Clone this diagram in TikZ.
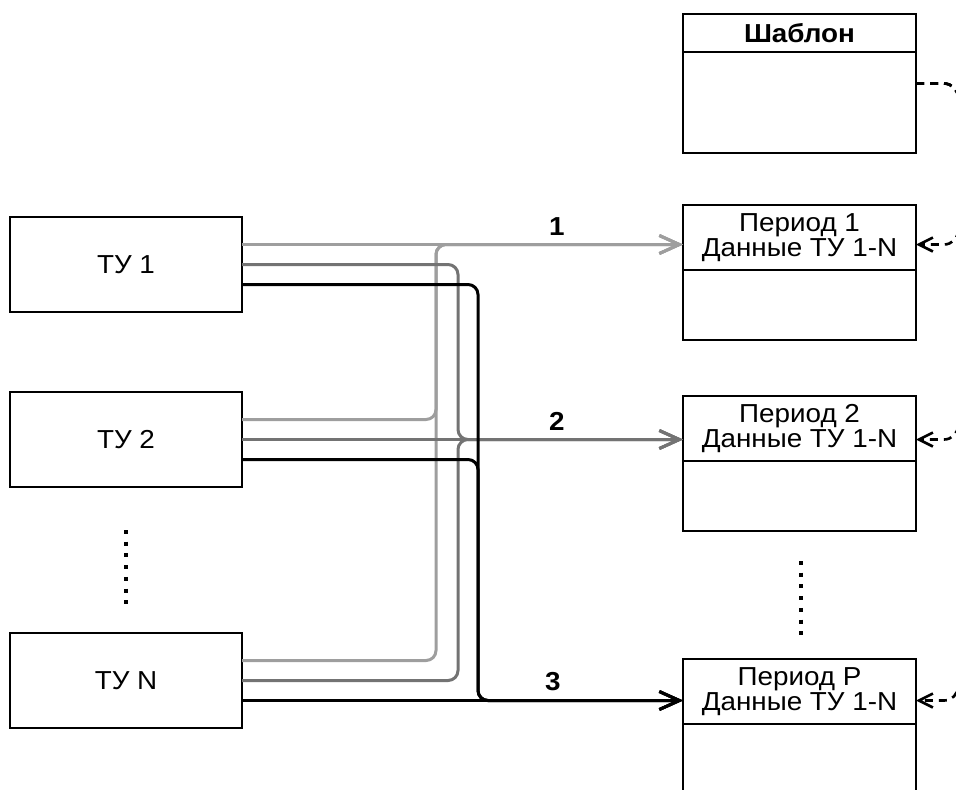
\documentclass[tikz,border=0pt]{standalone}
\usepackage{fontspec}
\setmainfont{Liberation Sans}[FakeStretch=1.07]
\usetikzlibrary{arrows.meta, positioning, calc}

\definecolor{wireA}{gray}{0.62}
\definecolor{wireB}{gray}{0.45}

\tikzset{
  basefont/.style={font=\fontsize{13}{12.5}\selectfont},
  tubox/.style={draw, line width=1pt, outer sep=0pt, inner sep=0pt, minimum width=116pt, minimum height=47.5pt, basefont},
  hdrbox/.style={draw, line width=1pt, outer sep=0pt, inner sep=0pt, minimum width=116.5pt, minimum height=32.5pt, align=center, anchor=north, basefont},
  bodybox/.style={draw, line width=1pt, outer sep=0pt, inner sep=0pt, minimum width=116.5pt, minimum height=35pt},
  wire/.style={line width=1.5pt, rounded corners=5pt, -{Straight Barb[length=10pt, width=9pt]}},
  tmpl/.style={line width=1.3pt, dash pattern=on 4pt off 3pt, rounded corners=7pt, -{Straight Barb[length=7pt, width=7pt]}},
  lbl/.style={inner sep=0pt, above=4pt, text=black, font=\fontsize{13}{13}\selectfont\bfseries},
  vdots/.style={line width=2pt, dash pattern=on 2pt off 3.85pt}
}

\begin{document}
\begin{tikzpicture}[x=0.5pt, y=-0.5pt]

    % --- 1. CANVAS ---
    \useasboundingbox (0,0) rectangle (956,789);
    \clip (0,0) rectangle (956,789);

    % --- 2. SOURCES (TU) ---
    \node[tubox] (tu1) at (126,264.5) {ТУ 1};
    \node[tubox] (tu2) at (126,439.5) {ТУ 2};
    \node[tubox] (tuN) at (126,680.5) {ТУ N};
    \draw[vdots] (126,530) -- (126,605);

    % three outputs per source
    \foreach \t in {tu1,tu2,tuN}{
        \coordinate (\t-a) at ([yshift=10pt]\t.east);
        \coordinate (\t-b) at (\t.east);
        \coordinate (\t-c) at ([yshift=-10pt]\t.east);
    }

    % --- 3. TEMPLATE AND PERIODS ---
    \node[hdrbox, minimum height=19pt, font=\fontsize{13}{12.5}\selectfont\bfseries] (sab) at (799.5,14) {Шаблон};
    \node[bodybox, minimum height=50.5pt, below=0pt of sab] (sabb) {};

    \node[hdrbox] (p1) at (799.5,205) {Период 1\\Данные ТУ 1-N};
    \node[bodybox, below=0pt of p1] (p1b) {};

    \node[hdrbox] (p2) at (799.5,396) {Период 2\\Данные ТУ 1-N};
    \node[bodybox, below=0pt of p2] (p2b) {};

    \node[hdrbox] (pP) at (799.5,659) {Период P\\Данные ТУ 1-N};
    \node[bodybox, below=0pt of pP] (pPb) {};
    \draw[vdots] (801,561) -- (801,636);

    % --- 4. WIRES TO PERIOD 1 ---
    \draw[wire, wireA] (tu2-a) -- ++(194,0) |- (tu1-a -| p1.west);
    \draw[wire, wireA] (tuN-a) -- ++(194,0) |- (tu1-a -| p1.west);
    \draw[wire, wireA] (tu1-a) -- (tu1-a -| p1.west)
        node[lbl, pos=0.714] {1};

    % --- 5. WIRES TO PERIOD 2 ---
    \draw[wire, wireB] (tu1-b) -- ++(216,0) |- (tu2-b -| p2.west);
    \draw[wire, wireB] (tuN-b) -- ++(216,0) |- (tu2-b -| p2.west);
    \draw[wire, wireB] (tu2-b) -- (tu2-b -| p2.west)
        node[lbl, pos=0.714] {2};

    % --- 6. WIRES TO PERIOD P ---
    \draw[wire, black] (tu1-c) -- ++(236,0) |- (tuN-c -| pP.west);
    \draw[wire, black] (tu2-c) -- ++(236,0) |- (tuN-c -| pP.west);
    \draw[wire, black] (tuN-c) -- (tuN-c -| pP.west)
        node[lbl, pos=0.705] {3};

    % --- 7. TEMPLATE LINKS (leave the frame on the right) ---
    \coordinate (sabR) at ($(sab.north east)!0.5!(sabb.south east)$);
    \draw[tmpl] (sabR) -- ++(42,0) |- (tu1-a -| p1.east);
    \draw[tmpl] (sabR) -- ++(42,0) |- (tu2-b -| p2.east);
    \draw[tmpl] (sabR) -- ++(42,0) |- (tuN-c -| pP.east);

\end{tikzpicture}
\end{document}
